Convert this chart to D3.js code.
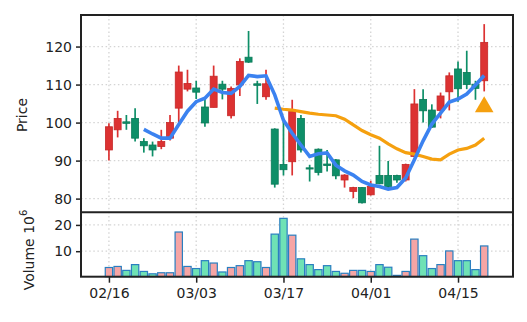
<!DOCTYPE html>
<html>
<head>
<meta charset="utf-8">
<script src="https://cdn.jsdelivr.net/npm/d3@7"></script>
<style>
  body { margin: 0; background: #fff; }
  text { font-family: "DejaVu Sans", sans-serif; fill: #222; }
</style>
</head>
<body>
<div id="chart"></div>
<script>
// daily bars, index based x axis (non-trading days skipped)
var opens  = [92.8, 98.1, 100.2, 101.1, 95.0, 94.1, 93.7, 95.9, 103.8, 108.8,
              109.1, 104.1, 104.0, 110.1, 101.8, 109.9, 117.2, 110.2, 106.8, 98.3,
              89.0, 89.7, 101.1, 88.1, 93.0, 89.1, 90.2, 84.9, 81.9, 82.9,
              81.0, 86.1, 86.1, 86.1, 84.9, 91.1, 106.1, 103.3, 103.2, 108.1,
              114.1, 113.2, 110.1, 111.0];
var highs  = [99.8, 103.1, 102.0, 103.8, 95.9, 95.0, 98.1, 102.0, 115.0, 113.9,
              111.0, 106.5, 115.0, 111.0, 109.5, 116.9, 124.1, 111.0, 113.9, 98.5,
              100.4, 106.0, 102.0, 88.9, 93.2, 92.8, 90.4, 86.4, 83.1, 83.0,
              84.7, 93.9, 89.9, 86.3, 89.2, 108.8, 108.8, 104.8, 107.9, 113.2,
              116.1, 118.9, 111.0, 125.9];
var lows   = [90.0, 96.1, 98.1, 95.0, 92.1, 91.1, 93.0, 95.3, 100.0, 108.2,
              106.2, 98.9, 104.0, 106.1, 101.1, 107.0, 115.7, 104.9, 106.0, 82.9,
              86.1, 86.1, 92.1, 84.5, 86.1, 87.1, 85.1, 82.9, 80.1, 78.7,
              80.8, 83.8, 82.7, 84.2, 84.5, 91.0, 100.0, 98.6, 101.1, 103.2,
              105.5, 108.8, 106.0, 108.2];
var closes = [98.9, 101.1, 99.8, 95.9, 93.9, 92.8, 95.0, 100.0, 113.3, 110.3,
              108.0, 99.9, 112.2, 108.8, 109.0, 116.1, 115.9, 109.8, 110.2, 83.8,
              87.6, 102.9, 92.8, 87.8, 86.9, 88.7, 86.0, 86.2, 82.9, 78.9,
              83.2, 83.9, 83.2, 84.9, 89.0, 104.9, 103.1, 98.8, 107.0, 112.3,
              108.9, 110.0, 109.0, 121.1];
var volumes = [3.8, 4.2, 2.7, 4.9, 2.3, 1.4, 1.8, 1.8, 17.3, 4.2,
               3.4, 6.4, 5.5, 2.1, 3.8, 4.5, 6.4, 6.0, 3.8, 16.5,
               22.5, 16.1, 7.1, 4.9, 3.0, 4.5, 2.3, 1.6, 2.7, 2.7,
               2.3, 4.9, 3.9, 0.8, 2.3, 14.6, 8.3, 3.4, 4.9, 10.1,
               6.4, 6.4, 3.0, 12.0];
// moving averages (null where not yet defined)
var ma5 = [null, null, null, null, 98.2, 97.0, 95.9, 95.9, 99.5, 103.0,
           105.5, 106.4, 108.8, 107.9, 107.7, 109.5, 112.4, 112.1, 112.3, 107.3,
           100.6, 97.2, 94.1, 91.1, 91.8, 92.0, 88.8, 87.3, 86.2, 84.5,
           83.6, 83.2, 82.5, 82.9, 85.4, 90.2, 95.2, 99.6, 102.5, 105.4,
           106.2, 107.5, 109.9, 112.4];
var ma20 = [null, null, null, null, null, null, null, null, null, null,
            null, null, null, null, null, null, null, null, null, 103.8,
            103.5, 103.3, 102.9, 102.5, 102.2, 102.0, 101.8, 100.9, 99.4, 97.9,
            96.8, 95.9, 94.4, 93.1, 92.1, 91.7, 91.1, 90.4, 90.2, 91.7,
            92.8, 93.2, 94.1, 95.9];
var signalIdx = [43];
var signalVal = [104.5];

var tickIdx = [0, 10, 20, 30, 40];
var tickLabels = ["02/16", "03/03", "03/17", "04/01", "04/15"];
var priceTicks = [80, 90, 100, 110, 120];
var volTicks = [10, 20];

(function() {
var width = 527, height = 322;
var left = 81, right = 513, topY = 15, mid = 212.3, bottom = 276.7;

var upColor = "#dc3232", downColor = "#0e8f68";
var volUp = "#f6a5a5", volDown = "#6fe2b5", volEdge = "#2a7fc0";

var svg = d3.select("#chart").append("svg")
  .attr("width", width)
  .attr("height", height);

var x = d3.scaleLinear().domain([-3.2, 46.3]).range([left, right]);
var y = d3.scaleLinear().domain([76.4, 128.3]).range([mid, topY]);
var yv = d3.scaleLinear().domain([0.3, 24.8]).range([bottom, mid]);

var step = x(1) - x(0);
var idx = d3.range(closes.length);
var isUp = function(i) { return closes[i] >= opens[i]; };

// grid
var grid = svg.append("g")
  .attr("stroke", "#d4d4d4")
  .attr("stroke-width", 1.3)
  .attr("stroke-dasharray", "1.5,2.6");
grid.selectAll(".gx").data(tickIdx).enter().append("line")
  .attr("x1", function(d) { return x(d); })
  .attr("x2", function(d) { return x(d); })
  .attr("y1", topY).attr("y2", bottom);
grid.selectAll(".gy").data(priceTicks).enter().append("line")
  .attr("x1", left).attr("x2", right)
  .attr("y1", function(d) { return y(d); })
  .attr("y2", function(d) { return y(d); });
grid.selectAll(".gv").data(volTicks).enter().append("line")
  .attr("x1", left).attr("x2", right)
  .attr("y1", function(d) { return yv(d); })
  .attr("y2", function(d) { return yv(d); });

// volume
svg.append("g").selectAll("rect").data(idx).enter().append("rect")
  .attr("x", function(i) { return x(i) - step * 0.42; })
  .attr("width", step * 0.84)
  .attr("y", function(i) { return yv(volumes[i]); })
  .attr("height", function(i) { return bottom - yv(volumes[i]); })
  .attr("fill", function(i) { return isUp(i) ? volUp : volDown; })
  .attr("stroke", volEdge)
  .attr("stroke-width", 1.2);

// candles
var candles = svg.append("g").selectAll("g").data(idx).enter().append("g");
candles.append("line")
  .attr("x1", function(i) { return x(i); })
  .attr("x2", function(i) { return x(i); })
  .attr("y1", function(i) { return y(highs[i]); })
  .attr("y2", function(i) { return y(lows[i]); })
  .attr("stroke", function(i) { return isUp(i) ? upColor : downColor; })
  .attr("stroke-width", 1.7);
candles.append("rect")
  .attr("x", function(i) { return x(i) - step * 0.4; })
  .attr("width", step * 0.8)
  .attr("y", function(i) { return y(Math.max(opens[i], closes[i])); })
  .attr("height", function(i) { return Math.max(1.2, Math.abs(y(opens[i]) - y(closes[i]))); })
  .attr("fill", function(i) { return isUp(i) ? upColor : downColor; })
  .attr("stroke", function(i) { return isUp(i) ? "#c62828" : "#0b7a58"; })
  .attr("stroke-width", 0.8);

// moving averages
var line = function(arr) {
  return d3.line()
    .defined(function(i) { return arr[i] != null; })
    .x(function(i) { return x(i); })
    .y(function(i) { return y(arr[i]); })(idx);
};
svg.append("path").attr("d", line(ma20))
  .attr("fill", "none").attr("stroke", "#f5a00f").attr("stroke-width", 3.2);
svg.append("path").attr("d", line(ma5))
  .attr("fill", "none").attr("stroke", "#3b82f0").attr("stroke-width", 3.6);

// signal marker
svg.selectAll(".sig").data(signalIdx).enter().append("path")
  .attr("d", d3.symbol().type(d3.symbolTriangle).size(150))
  .attr("transform", function(d, k) { return "translate(" + x(d) + "," + (y(signalVal[k]) + 1.5) + ")"; })
  .attr("fill", "#f5a00f");

// frame
var frame = svg.append("g").attr("stroke", "#222").attr("stroke-width", 2).attr("fill", "none");
frame.append("rect").attr("x", left).attr("y", topY).attr("width", right - left).attr("height", bottom - topY);
frame.append("line").attr("x1", left).attr("x2", right).attr("y1", mid).attr("y2", mid);

// axes
var axY = svg.append("g").attr("transform", "translate(" + left + ",0)")
  .call(d3.axisLeft(y).tickValues(priceTicks).tickSize(5).tickPadding(4));
var axV = svg.append("g").attr("transform", "translate(" + left + ",0)")
  .call(d3.axisLeft(yv).tickValues(volTicks).tickSize(5).tickPadding(4));
var axX = svg.append("g").attr("transform", "translate(0," + bottom + ")")
  .call(d3.axisBottom(x).tickValues(tickIdx)
    .tickFormat(function(d, k) { return tickLabels[k]; })
    .tickSize(6).tickPadding(5));
[axY, axV, axX].forEach(function(a) {
  a.select(".domain").remove();
  a.selectAll(".tick line").attr("stroke", "#222").attr("stroke-width", 1.5);
  a.selectAll(".tick text").attr("font-size", 14).attr("fill", "#222")
    .style("font-family", "DejaVu Sans");
});

svg.append("text")
  .attr("transform", "translate(27,115) rotate(-90)")
  .attr("text-anchor", "middle")
  .attr("font-size", 14)
  .text("Price");

var vl = svg.append("text")
  .attr("transform", "translate(34,250) rotate(-90)")
  .attr("text-anchor", "middle")
  .attr("font-size", 14);
vl.append("tspan").text("Volume  10");
vl.append("tspan").attr("font-size", 10).attr("dy", -7).text("6");
})();
</script>
</body>
</html>
